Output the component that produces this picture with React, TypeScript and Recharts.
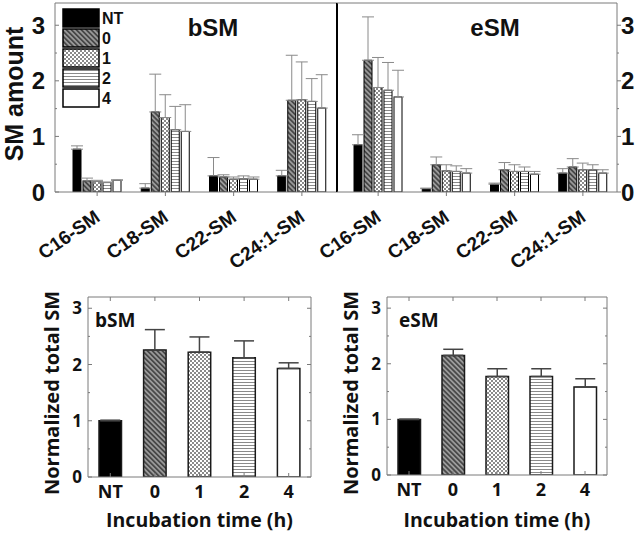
import React from 'react';
import { BarChart, Bar, XAxis, YAxis, ErrorBar, Legend, Cell } from 'recharts';

// ---------- data ----------
const categories = ['C16-SM', 'C18-SM', 'C22-SM', 'C24:1-SM'];
const seriesKeys = ['NT', '0', '1', '2', '4'];

// bSM (top-left)
const bsmNT = [0.77, 0.07, 0.29, 0.29];
const bsm0 = [0.2, 1.44, 0.27, 1.65];
const bsm1 = [0.19, 1.34, 0.23, 1.66];
const bsm2 = [0.17, 1.12, 0.24, 1.63];
const bsm4 = [0.21, 1.09, 0.23, 1.51];
const bsmNTErr = [0.06, 0.08, 0.33, 0.1];
const bsm0Err = [0.05, 0.68, 0.04, 0.81];
const bsm1Err = [0.02, 0.41, 0.04, 0.68];
const bsm2Err = [0.01, 0.42, 0.05, 0.41];
const bsm4Err = [0.01, 0.48, 0.04, 0.6];

// eSM (top-right)
const esmNT = [0.85, 0.06, 0.14, 0.34];
const esm0 = [2.37, 0.49, 0.4, 0.45];
const esm1 = [1.88, 0.38, 0.37, 0.4];
const esm2 = [1.83, 0.37, 0.37, 0.4];
const esm4 = [1.71, 0.34, 0.32, 0.34];
const esmNTErr = [0.18, 0.01, 0.02, 0.08];
const esm0Err = [0.78, 0.14, 0.13, 0.15];
const esm1Err = [0.54, 0.11, 0.12, 0.12];
const esm2Err = [0.5, 0.1, 0.08, 0.09];
const esm4Err = [0.48, 0.08, 0.05, 0.06];

// normalized totals (bottom)
const timeLabels = ['NT', '0', '1', '2', '4'];
const bsmTotal = [1.0, 2.26, 2.22, 2.12, 1.93];
const bsmTotalErr = [0.01, 0.36, 0.27, 0.3, 0.1];
const esmTotal = [1.0, 2.15, 1.77, 1.77, 1.58];
const esmTotalErr = [0.0, 0.11, 0.14, 0.14, 0.15];

const yTicks = [0, 0.5, 1, 1.5, 2, 2.5, 3];

// ---------- styles ----------
const TOP_FONT = '"Liberation Sans", Arial, sans-serif';
const BOT_FONT = '"Open Sans", "Liberation Sans", sans-serif';
const FRAME = '#7a7a7a';
const FILLS: Record<string, string> = {
  NT: '#000000',
  '0': 'url(#pHatch)',
  '1': 'url(#pCheck)',
  '2': 'url(#pLines)',
  '4': '#ffffff',
};

function buildRows(vals: number[][], errs: number[][]) {
  return categories.map((cat, i) => {
    const row: any = { cat };
    seriesKeys.forEach((k, s) => {
      row['v' + k] = vals[s][i];
      row['e' + k] = [0, errs[s][i]];
    });
    return row;
  });
}

const bsmRows = buildRows([bsmNT, bsm0, bsm1, bsm2, bsm4], [bsmNTErr, bsm0Err, bsm1Err, bsm2Err, bsm4Err]);
const esmRows = buildRows([esmNT, esm0, esm1, esm2, esm4], [esmNTErr, esm0Err, esm1Err, esm2Err, esm4Err]);

const isMajor = (v: number) => Math.abs(v - Math.round(v)) < 1e-6;

// ---------- ticks ----------
const TopLeftYTick = (p: any) => {
  const v = p.payload.value;
  const major = isMajor(v);
  return (
    <g>
      <line x1={p.x} x2={p.x + (major ? 4 : 2)} y1={p.y} y2={p.y} stroke={FRAME} />
      {major && (
        <text x={p.x - 10} y={p.y} dy="0.36em" textAnchor="end" fontFamily={TOP_FONT} fontWeight={700} fontSize={24} fill="#111">
          {v}
        </text>
      )}
    </g>
  );
};

const TopRightYTick = (p: any) => {
  const v = p.payload.value;
  const major = isMajor(v);
  return (
    <g>
      <line x1={p.x} x2={p.x + (major ? 4 : 2)} y1={p.y} y2={p.y} stroke={FRAME} />
      {major && (
        <text x={p.x + 4} y={p.y} dy="0.36em" textAnchor="start" fontFamily={TOP_FONT} fontWeight={700} fontSize={24} fill="#111">
          {v}
        </text>
      )}
    </g>
  );
};

const TopXTick = (p: any) => {
  const lx = p.x + 4;
  const ly = p.y + 28;
  return (
    <g>
      <line x1={p.x} x2={p.x} y1={p.y} y2={p.y + 4} stroke={FRAME} />
      <g transform={`translate(${lx}, ${ly}) rotate(-35)`}>
        <text x={0} y={0} textAnchor="end" fontFamily={TOP_FONT} fontWeight={700} fontSize={19} fill="#111">
          {p.payload.value}
        </text>
      </g>
    </g>
  );
};

const BotYTick = (p: any) => {
  const v = p.payload.value;
  const major = isMajor(v);
  return (
    <g>
      <line x1={p.x} x2={p.x + (major ? 4 : 2)} y1={p.y} y2={p.y} stroke={FRAME} />
      {major && (
        <text x={p.x - 6} y={p.y} dy="0.36em" textAnchor="end" fontFamily={BOT_FONT} fontWeight={700} fontSize={17} fill="#111">
          {v}
        </text>
      )}
    </g>
  );
};

const BotRightYTick = (p: any) => {
  const v = p.payload.value;
  const major = isMajor(v);
  return <line x1={p.x} x2={p.x - (major ? 4 : 2)} y1={p.y} y2={p.y} stroke={FRAME} />;
};

const BotTopXTick = (p: any) => <line x1={p.x} x2={p.x} y1={p.y} y2={p.y + 4} stroke={FRAME} />;

const BotXTick = (p: any) => (
  <g>
    <line x1={p.x} x2={p.x} y1={p.y} y2={p.y - 4} stroke={FRAME} />
    <text x={p.x} y={p.y + 15} dy="0.36em" textAnchor="middle" fontFamily={BOT_FONT} fontWeight={700} fontSize={18} fill="#111">
      {p.payload.value}
    </text>
  </g>
);

// ---------- legend ----------
const renderLegend = (props: any) => {
  const items = [...(props.payload || [])].sort(
    (a: any, b: any) => seriesKeys.indexOf(String(a.value)) - seriesKeys.indexOf(String(b.value))
  );
  return (
    <svg width={70} height={102} style={{ display: 'block' }}>
      {items.map((it: any, i: number) => (
        <g key={i}>
          <rect x={1} y={1 + i * 20} width={36} height={18} fill={it.color} stroke="#000" strokeWidth={1.5} />
          <text x={40} y={10 + i * 20} dy="0.36em" fontFamily={TOP_FONT} fontWeight={700} fontSize={16} fill="#111">
            {it.value}
          </text>
        </g>
      ))}
    </svg>
  );
};

// ---------- panels ----------
function TopPanel({ rows, side, title }: { rows: any[]; side: 'left' | 'right'; title: string }) {
  const isLeft = side === 'left';
  const width = isLeft ? 338 : 343;
  const marginLeft = isLeft ? 0 : 37;
  return (
    <BarChart
      width={width}
      height={300}
      data={rows}
      margin={{ top: 2, right: 0, left: marginLeft, bottom: 0 }}
      barSize={8}
      barGap={2}
    >
      <XAxis
        xAxisId="b"
        dataKey="cat"
        height={108}
        interval={0}
        padding={{ left: isLeft ? 8 : 7, right: isLeft ? 1 : 0 }}
        tickSize={0}
        tickMargin={0}
        tickLine={false}
        axisLine={{ stroke: FRAME }}
        tick={<TopXTick />}
      />
      <XAxis xAxisId="t" orientation="top" dataKey="cat" height={1} tick={false} tickLine={false} axisLine={{ stroke: FRAME }} />
      {isLeft ? (
        <YAxis
          yAxisId="y"
          orientation="left"
          width={55}
          domain={[0, 3.4]}
          allowDataOverflow
          ticks={yTicks}
          interval={0}
          tickSize={0}
          tickMargin={0}
          tickLine={false}
          axisLine={{ stroke: FRAME }}
          tick={<TopLeftYTick />}
        />
      ) : (
        <YAxis
          yAxisId="y"
          orientation="right"
          width={26}
          domain={[0, 3.4]}
          allowDataOverflow
          ticks={yTicks}
          interval={0}
          tickSize={0}
          tickMargin={0}
          tickLine={false}
          axisLine={{ stroke: FRAME }}
          tick={<TopRightYTick />}
        />
      )}
      {isLeft && (
        <YAxis
          yAxisId="d"
          orientation="right"
          width={1}
          domain={[0, 3.4]}
          tick={false}
          tickLine={false}
          axisLine={{ stroke: '#000', strokeWidth: 2 }}
        />
      )}
      {seriesKeys.map((k) => (
        <Bar
          key={k}
          xAxisId="b"
          yAxisId="y"
          dataKey={'v' + k}
          name={k}
          fill={FILLS[k]}
          stroke="#000"
          strokeWidth={1}
          isAnimationActive={false}
        >
          <ErrorBar dataKey={'e' + k} width={6} stroke="#8a8a8a" strokeWidth={1} />
        </Bar>
      ))}
      {isLeft && (
        <Legend
          layout="vertical"
          align="center"
          verticalAlign="middle"
          content={renderLegend}
          wrapperStyle={{ left: 62, top: 8, width: 70, height: 102 }}
        />
      )}
      <text
        x={isLeft ? 213 : 195}
        y={36}
        textAnchor="middle"
        fontFamily={TOP_FONT}
        fontWeight={700}
        fontSize={24}
        fill="#111"
      >
        {title}
      </text>
      {isLeft && (
        <text
          x={14}
          y={94}
          transform="rotate(-90 14 94)"
          textAnchor="middle"
          dy="0.36em"
          fontFamily={TOP_FONT}
          fontWeight={700}
          fontSize={25}
          fill="#111"
        >
          SM amount
        </text>
      )}
    </BarChart>
  );
}

function BottomPanel({ values, errs, title, yAxisW, plotW, rightM, topM, xAxisH, labelX, labelY, titleX }: any) {
  const rows = timeLabels.map((t, i) => ({ t, v: values[i], e: [0, errs[i]] }));
  const chartW = yAxisW + plotW + 1 + rightM;
  return (
    <BarChart width={chartW} height={244} data={rows} margin={{ top: topM, right: rightM, left: 0, bottom: 0 }} barSize={22.5}>
      <XAxis
        xAxisId="b"
        dataKey="t"
        height={xAxisH}
        interval={0}
        tickSize={0}
        tickMargin={0}
        tickLine={false}
        axisLine={{ stroke: FRAME }}
        tick={<BotXTick />}
      />
      <XAxis
        xAxisId="t"
        orientation="top"
        dataKey="t"
        height={1}
        interval={0}
        tickSize={0}
        tickMargin={0}
        tickLine={false}
        axisLine={{ stroke: FRAME }}
        tick={<BotTopXTick />}
      />
      <YAxis
        yAxisId="y"
        width={yAxisW}
        domain={[0, 3.2]}
        allowDataOverflow
        ticks={yTicks}
        interval={0}
        tickSize={0}
        tickMargin={0}
        tickLine={false}
        axisLine={{ stroke: FRAME }}
        tick={<BotYTick />}
      />
      <YAxis
        yAxisId="r"
        orientation="right"
        width={1}
        domain={[0, 3.2]}
        allowDataOverflow
        ticks={yTicks}
        interval={0}
        tickSize={0}
        tickMargin={0}
        tickLine={false}
        axisLine={{ stroke: FRAME }}
        tick={<BotRightYTick />}
      />
      <Bar xAxisId="b" yAxisId="y" dataKey="v" stroke="#1a1a1a" strokeWidth={1.5} isAnimationActive={false}>
        {rows.map((r, i) => (
          <Cell key={i} fill={FILLS[r.t]} />
        ))}
        <ErrorBar dataKey="e" width={10} stroke="#444" strokeWidth={1.5} />
      </Bar>
      <text x={titleX} y={37} fontFamily={BOT_FONT} fontWeight={700} fontSize={19} fill="#111">
        {title}
      </text>
      <text
        x={labelX}
        y={labelY}
        transform={`rotate(-90 ${labelX} ${labelY})`}
        textAnchor="middle"
        dy="0.36em"
        fontFamily={BOT_FONT}
        fontWeight={700}
        fontSize={20}
        fill="#111"
      >
        Normalized total SM
      </text>
      <text
        x={yAxisW + plotW / 2}
        y={230}
        dy="0.36em"
        textAnchor="middle"
        fontFamily={BOT_FONT}
        fontWeight={700}
        fontSize={19.5}
        fill="#111"
      >
        Incubation time (h)
      </text>
    </BarChart>
  );
}

export default function App() {
  return (
    <div style={{ position: 'absolute', left: 0, top: 0, width: 642, height: 534, background: '#fff', overflow: 'hidden' }}>
      <svg width={0} height={0} style={{ position: 'absolute' }}>
        <defs>
          <pattern id="pHatch" width={3.5} height={3.5} patternUnits="userSpaceOnUse" patternTransform="rotate(-45)">
            <rect width={3.5} height={3.5} fill="#9a9a9a" />
            <line x1={1.75} y1={0} x2={1.75} y2={3.5} stroke="#3a3a3a" strokeWidth={1.5} />
          </pattern>
          <pattern id="pCheck" width={4} height={4} patternUnits="userSpaceOnUse">
            <rect width={4} height={4} fill="#ffffff" />
            <rect x={0} y={0} width={2} height={2} fill="#8a8a8a" />
            <rect x={2} y={2} width={2} height={2} fill="#8a8a8a" />
          </pattern>
          <pattern id="pLines" width={3} height={3} patternUnits="userSpaceOnUse">
            <rect width={3} height={3} fill="#ffffff" />
            <rect x={0} y={2} width={3} height={1} fill="#8a8a8a" />
          </pattern>
        </defs>
      </svg>
      <div style={{ position: 'absolute', left: 0, top: 290 }}>
        <BottomPanel
          values={bsmTotal}
          errs={bsmTotalErr}
          title="bSM"
          yAxisW={88}
          plotW={223}
          rightM={8}
          topM={6}
          xAxisH={57}
          labelX={52}
          labelY={103}
          titleX={95}
        />
      </div>
      <div style={{ position: 'absolute', left: 321, top: 290 }}>
        <BottomPanel
          values={esmTotal}
          errs={esmTotalErr}
          title="eSM"
          yAxisW={66}
          plotW={220}
          rightM={13}
          topM={6}
          xAxisH={59}
          labelX={30}
          labelY={103}
          titleX={78}
        />
      </div>
      <div style={{ position: 'absolute', left: 0, top: 0 }}>
        <TopPanel rows={bsmRows} side="left" title="bSM" />
      </div>
      <div style={{ position: 'absolute', left: 300, top: 0 }}>
        <TopPanel rows={esmRows} side="right" title="eSM" />
      </div>
    </div>
  );
}
